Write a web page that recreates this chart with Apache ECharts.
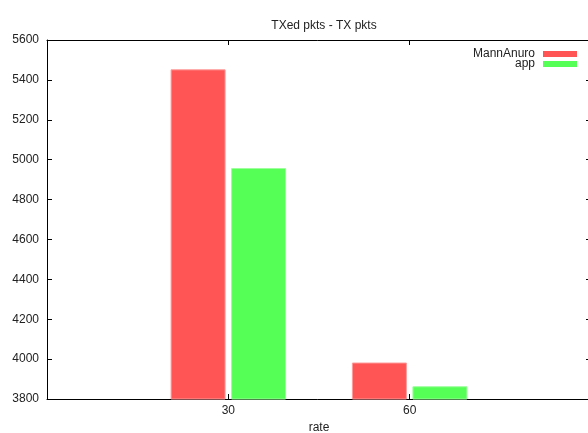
<!DOCTYPE html>
<html>
<head>
<meta charset="utf-8">
<script src="https://cdn.jsdelivr.net/npm/echarts@6/dist/echarts.min.js"></script>
<style>html,body{margin:0;padding:0;background:#fff;}#c{width:588px;height:433px;}</style>
</head>
<body>
<div id="c"></div>
<script>
var title = 'TXed pkts - TX pkts';
var xName = 'rate';
var rates = ['30', '60'];
var mannAnuro = [5453, 3983];
var app = [4958, 3864];
var yMin = 3800, yMax = 5600, yStep = 200;

// pad one empty slot on each side (gnuplot histogram x-range)
var cats = [''].concat(rates).concat(['']);
function pad(a) { return [null].concat(a).concat([null]); }
function isReal(i) { return i >= 1 && i <= rates.length; }

var font = 'Liberation Sans, Arial, Helvetica, sans-serif';
var txt = '#222';
var axisLine = { show: true, onZero: false, lineStyle: { color: '#000', width: 1 } };

var chart = echarts.init(document.getElementById('c'), null, { renderer: 'canvas' });
chart.setOption({
  animation: false,
  backgroundColor: '#fff',
  textStyle: { fontFamily: font },
  title: {
    text: title, left: 319, textAlign: 'center', top: 15,
    textStyle: { fontSize: 12, fontWeight: 'normal', color: txt, fontFamily: font }
  },
  legend: {
    orient: 'vertical', right: 11, top: 48, padding: 0, itemGap: -2,
    align: 'right', itemWidth: 34, itemHeight: 6, icon: 'rect',
    itemStyle: { borderWidth: 0 },
    textStyle: { fontSize: 12, color: txt, lineHeight: 11, padding: [0, 3, 0, 0], fontFamily: font },
    data: ['MannAnuro', 'app']
  },
  grid: { left: 47, right: -3, top: 40, bottom: 34, containLabel: false, outerBoundsMode: 'none' },
  xAxis: [{
    type: 'category', data: cats, boundaryGap: false, position: 'bottom',
    name: xName, nameLocation: 'middle', nameGap: 23,
    nameTextStyle: { fontSize: 12, color: txt, fontFamily: font },
    axisLine: axisLine,
    axisTick: { show: true, inside: true, length: 5, interval: function (i) { return isReal(i); }, lineStyle: { color: '#000' } },
    axisLabel: { fontSize: 12, color: txt, margin: 6, interval: 0, fontFamily: font },
    splitLine: { show: false }
  }, {
    type: 'category', data: cats, boundaryGap: false, position: 'top',
    axisLine: axisLine,
    axisTick: { show: true, inside: true, length: 5, interval: function (i) { return isReal(i); }, lineStyle: { color: '#000' } },
    axisLabel: { show: false },
    splitLine: { show: false }
  }],
  yAxis: [{
    type: 'value', min: yMin, max: yMax, interval: yStep, position: 'left',
    axisLine: axisLine,
    axisTick: { show: true, inside: true, length: 5, lineStyle: { color: '#000' } },
    axisLabel: { fontSize: 12, color: txt, margin: 8, fontFamily: font, formatter: function (v) { return String(v); } },
    splitLine: { show: false }
  }, {
    type: 'value', min: yMin, max: yMax, interval: yStep, position: 'right',
    axisLine: axisLine,
    axisTick: { show: true, inside: true, length: 5, lineStyle: { color: '#000' } },
    axisLabel: { show: false },
    splitLine: { show: false }
  }],
  series: [{
    name: 'MannAnuro', type: 'bar', data: pad(mannAnuro), barWidth: 55, barGap: '10%',
    itemStyle: { color: '#ff5555', borderColor: '#ff9c9c', borderWidth: 1 }
  }, {
    name: 'app', type: 'bar', data: pad(app), barWidth: 55, barGap: '10%',
    itemStyle: { color: '#55ff55', borderColor: '#9cff9c', borderWidth: 1 }
  }]
});
</script>
</body>
</html>
